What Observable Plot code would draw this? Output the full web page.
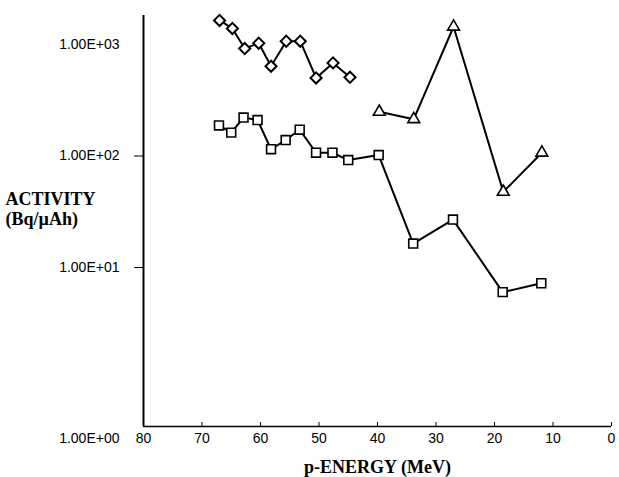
<!DOCTYPE html>
<html><head><meta charset="utf-8">
<script src="https://cdn.jsdelivr.net/npm/d3@7"></script>
<script src="https://cdn.jsdelivr.net/npm/@observablehq/plot@0.6"></script>
<style>
body{margin:0;background:#fff}
g[aria-label="x-axis label"] text{font:bold 18px "Liberation Serif", "Times New Roman", serif}
</style></head><body><div id="chart"></div>
<script>
const diamondEnergy = [67.0, 64.8, 62.7, 60.3, 58.2, 55.6, 53.2, 50.5, 47.6, 44.7];
const diamondActivity = [1644, 1393, 920, 1027, 638, 1071, 1071, 501, 684, 508];
const squareEnergy = [67.1, 65.0, 62.9, 60.5, 58.2, 55.7, 53.3, 50.5, 47.7, 45.0, 39.8, 33.9, 27.1, 18.6, 12.0];
const squareActivity = [188, 162, 221, 210, 115, 139, 172, 107, 107, 92, 102, 16.4, 26.9, 7.0, 7.96];
const triangleEnergy = [39.7, 33.8, 27.0, 18.5, 11.9];
const triangleActivity = [249, 214, 1443, 47.7, 107];
const xTicks = [80, 70, 60, 50, 40, 30, 20, 10, 0];
const yTicks = [1, 10, 100, 1000];
const yTickLabels = ["1.00E+00", "1.00E+01", "1.00E+02", "1.00E+03"];

const toRows = (name, xs, ys) => xs.map((e, i) => ({series: name, energy: e, activity: ys[i]}));
const diamonds = toRows("diamond", diamondEnergy, diamondActivity);
const squares = toRows("square", squareEnergy, squareActivity);
const triangles = toRows("triangle", triangleEnergy, triangleActivity);
const allRows = [...diamonds, ...squares, ...triangles];
const fmtY = d => yTickLabels[yTicks.indexOf(d)];

const chart = Plot.plot({
  width: 619, height: 477,
  marginLeft: 143, marginRight: 8, marginTop: 15, marginBottom: 51,
  style: {fontFamily: '"Liberation Sans", Arial, sans-serif', fontSize: "14px", background: "#fff", color: "#000"},
  x: {domain: [80, 0]},
  y: {type: "log", domain: [1, 10, 1820], range: [426, 267, 15]},
  marks: [
    Plot.ruleX([80], {stroke: "#000", strokeWidth: 2}),
    Plot.ruleY([1], {stroke: "#000", strokeWidth: 1.5}),
    Plot.axisX({ticks: xTicks, tickSize: -4, tickPadding: 11, tickFormat: d => String(d),
      label: "p-ENERGY (MeV)", labelAnchor: "center", labelArrow: "none", labelOffset: 46}),
    Plot.axisY({ticks: [10, 100], tickSize: 9, tickFormat: () => "", label: null}),
    Plot.axisY({ticks: yTicks.slice(1), tickSize: 0, tickPadding: 24, tickFormat: fmtY, label: null}),
    Plot.axisY({ticks: yTicks.slice(0, 1), tickSize: 0, tickPadding: 24, tickFormat: fmtY, label: null, dy: 12}),
    Plot.text(["ACTIVITY\n(Bq/µAh)"], {text: d => d, frameAnchor: "left", dx: -138, dy: -12, textAnchor: "start",
      lineHeight: 1.1, fontSize: 18, fontWeight: "bold", fontFamily: '"Liberation Serif", "Times New Roman", serif'}),
    Plot.line(allRows, {x: "energy", y: "activity", z: "series", stroke: "#000", strokeWidth: 2}),
    Plot.dot(diamonds, {x: "energy", y: "activity", symbol: "diamond2", r: 5, fill: "#fff", stroke: "#000", strokeWidth: 2}),
    Plot.dot(squares, {x: "energy", y: "activity", symbol: "square", r: 5, fill: "#fff", stroke: "#000", strokeWidth: 1.6}),
    Plot.dot(triangles, {x: "energy", y: "activity", symbol: "triangle", r: 4.4, fill: "#fff", stroke: "#000", strokeWidth: 1.6})
  ]
});
document.getElementById("chart").appendChild(chart);
</script></body></html>
